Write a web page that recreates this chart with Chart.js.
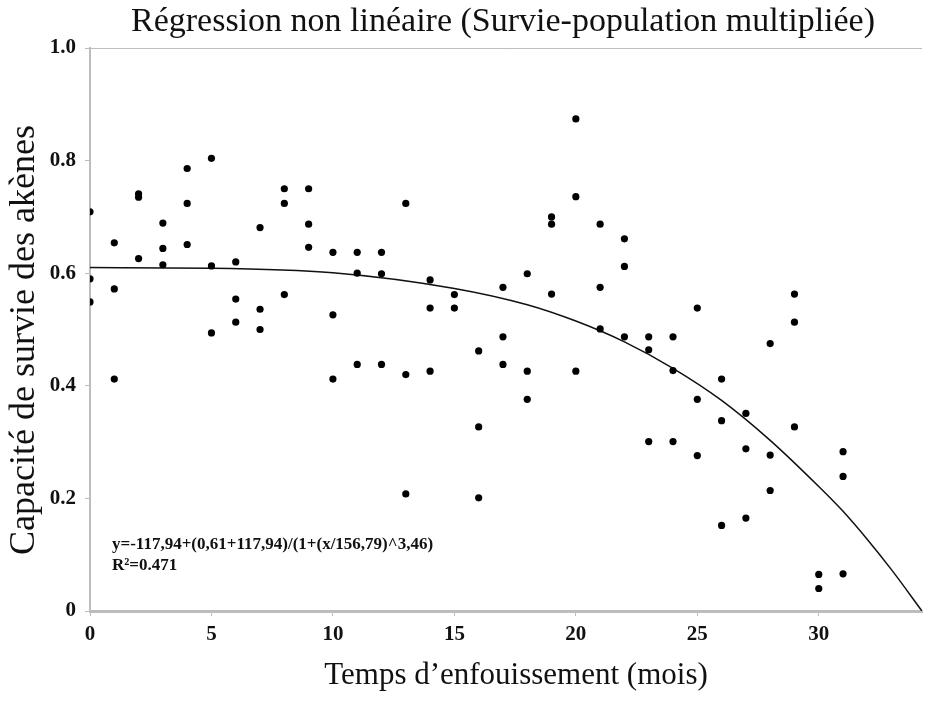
<!DOCTYPE html>
<html>
<head>
<meta charset="utf-8">
<script src="https://cdn.jsdelivr.net/npm/chart.js@4/dist/chart.umd.min.js"></script>
<style>
  html, body { margin: 0; padding: 0; background: #fff; }
  canvas { display: block; }
</style>
</head>
<body>
<canvas id="myChart" width="930" height="702"></canvas>
<script>
// temps d'enfouissement (mois) / capacité de survie
let mois = [
  0, 0, 0, 1, 1, 1, 2, 2, 2, 3, 3, 3, 4, 4, 4, 5, 5, 5, 6, 6, 6,
  7, 7, 7, 8, 8, 8, 9, 9, 9, 10, 10, 10, 11, 11, 11, 12, 12, 12,
  13, 13, 13, 14, 14, 14, 15, 15, 16, 16, 16, 17, 17, 17, 18, 18, 18,
  19, 19, 19, 20, 20, 20, 21, 21, 21, 22, 22, 22, 23, 23, 23,
  24, 24, 24, 25, 25, 25, 26, 26, 26, 27, 27, 27, 28, 28, 28,
  29, 29, 29, 30, 30, 31, 31, 31
];
let survie = [
  0.709, 0.590, 0.549, 0.654, 0.572, 0.412, 0.741, 0.735, 0.626, 0.689, 0.644, 0.615,
  0.786, 0.724, 0.651, 0.804, 0.613, 0.494, 0.620, 0.554, 0.513,
  0.681, 0.536, 0.500, 0.750, 0.724, 0.562, 0.750, 0.687, 0.646,
  0.637, 0.526, 0.412, 0.637, 0.600, 0.438, 0.637, 0.599, 0.438,
  0.724, 0.420, 0.208, 0.588, 0.538, 0.426, 0.562, 0.538,
  0.462, 0.327, 0.201, 0.575, 0.487, 0.438, 0.599, 0.426, 0.376,
  0.700, 0.687, 0.563, 0.874, 0.736, 0.426, 0.687, 0.575, 0.501,
  0.661, 0.612, 0.487, 0.487, 0.464, 0.301, 0.487, 0.427, 0.301,
  0.538, 0.376, 0.276, 0.412, 0.338, 0.152, 0.351, 0.288, 0.165,
  0.475, 0.277, 0.214, 0.563, 0.513, 0.327, 0.065, 0.040,
  0.283, 0.239, 0.066
];

// fitted curve
let courbeX = [0, 5, 10, 15, 18, 20, 22, 24, 26, 28, 30, 31, 32, 33, 34.25];
let courbeY = [0.610, 0.609, 0.601, 0.573, 0.544, 0.515, 0.478, 0.431, 0.374, 0.303, 0.221, 0.177, 0.127, 0.073, 0];

let yTicks = [0, 0.2, 0.4, 0.6, 0.8, 1.0];
let xTicks = [0, 5, 10, 15, 20, 25, 30];

let titre = "Régression non linéaire (Survie-population multipliée)";
let titreX = "Temps d\u2019enfouissement (mois)";
let titreY = "Capacité de survie des akènes";
let equation = ["y=-117,94+(0,61+117,94)/(1+(x/156,79)^3,46)", "R\u00b2=0.471"];

const serif = "'Liberation Serif', 'DejaVu Serif', serif";
const axisGray = "#bdbdbd";

// titles and the equation box, placed like in the original figure
const textPlugin = {
  id: "texts",
  afterDatasetsDraw(chart) {
    const c = chart.ctx;
    const area = chart.chartArea;
    c.save();
    c.fillStyle = "#111";
    c.textAlign = "center";
    c.textBaseline = "alphabetic";
    c.font = "34px " + serif;
    c.fillText(titre, 503, 31);
    c.font = "31px " + serif;
    c.fillText(titreX, 516, 684);
    c.save();
    c.translate(25, 340);
    c.rotate(-Math.PI / 2);
    c.textBaseline = "middle";
    c.font = "36px " + serif;
    c.fillText(titreY, 0, 0);
    c.restore();
    c.textAlign = "left";
    c.textBaseline = "middle";
    c.font = "bold 17px " + serif;
    c.fillText(equation[0], area.left + 22, area.bottom - 66);
    c.fillText(equation[1], area.left + 22, area.bottom - 45);
    c.restore();
  },
};

var ctx = document.getElementById("myChart");

var myChart = new Chart(ctx, {
  type: "scatter",
  data: {
    datasets: [
      {
        label: "Survie",
        data: mois.map((m, i) => ({ x: m, y: survie[i] })),
        backgroundColor: "#000",
        borderColor: "#000",
        pointRadius: 3.6,
        pointBorderWidth: 0,
        order: 1,
      },
      {
        label: "Régression",
        data: courbeX.map((x, i) => ({ x: x, y: courbeY[i] })),
        showLine: true,
        borderColor: "#111",
        borderWidth: 1.5,
        pointRadius: 0,
        cubicInterpolationMode: "monotone",
        order: 2,
      },
    ],
  },
  options: {
    responsive: false,
    animation: false,
    devicePixelRatio: 1,
    layout: { padding: { top: 48, right: 8 } },
    plugins: {
      legend: { display: false },
      tooltip: { enabled: false },
    },
    scales: {
      x: {
        type: "linear",
        min: 0,
        max: 34.25,
        afterBuildTicks: (scale) => {
          scale.ticks = xTicks.map((v) => ({ value: v }));
        },
        afterFit: (scale) => {
          scale.height = 91;
        },
        border: { color: axisGray, width: 3 },
        grid: {
          drawOnChartArea: false,
          tickColor: axisGray,
          tickLength: 5,
        },
        ticks: {
          color: "#111",
          padding: 6,
          font: { family: serif, size: 21, weight: "bold" },
          maxRotation: 0,
        },
      },
      y: {
        min: 0,
        max: 1,
        afterBuildTicks: (scale) => {
          scale.ticks = yTicks.map((v) => ({ value: v }));
        },
        afterFit: (scale) => {
          scale.width = 90;
        },
        border: { color: axisGray, width: 2 },
        grid: {
          color: (c) => (c.tick && c.tick.value === 1 ? axisGray : "transparent"),
          tickColor: axisGray,
          tickLength: 5,
        },
        ticks: {
          color: "#111",
          padding: 9,
          font: { family: serif, size: 21, weight: "bold" },
          callback: (v) => (v === 0 ? "0" : v.toFixed(1)),
        },
      },
    },
  },
  plugins: [textPlugin],
});
</script>
</body>
</html>
